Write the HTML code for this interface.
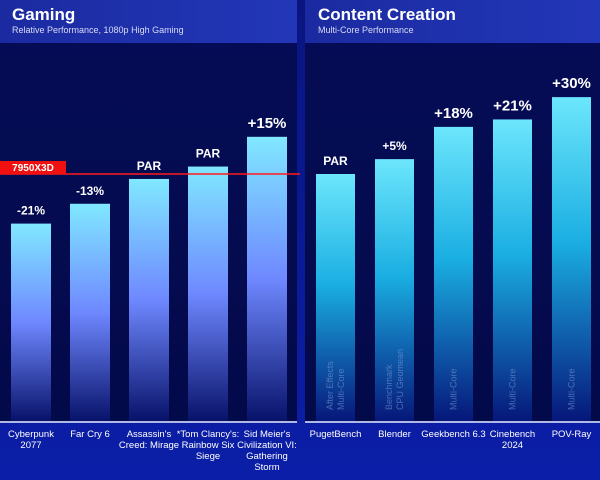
<!DOCTYPE html>
<html><head><meta charset="utf-8"><style>
html,body{margin:0;padding:0;width:600px;height:480px;overflow:hidden;background:#0c1a9a;font-family:"Liberation Sans",sans-serif}
</style></head><body>
<svg id="c" width="600" height="480" xmlns="http://www.w3.org/2000/svg">
<defs>
<linearGradient id="bg" x1="0" y1="0" x2="0" y2="1"><stop offset="0" stop-color="#0a1580"/><stop offset="1" stop-color="#0b1ea8"/></linearGradient>
<linearGradient id="hd" x1="0" y1="0" x2="1" y2="0"><stop offset="0" stop-color="#1b2aa0"/><stop offset="1" stop-color="#2237b8"/></linearGradient>
<linearGradient id="pn" x1="0" y1="0" x2="0" y2="1"><stop offset="0" stop-color="#050c55"/><stop offset="1" stop-color="#030a4a"/></linearGradient>
<linearGradient id="gl" x1="0" y1="0" x2="0" y2="1"><stop offset="0" stop-color="#80e8ff"/><stop offset="0.5" stop-color="#6f88ff"/><stop offset="1" stop-color="#08126a"/></linearGradient>
<linearGradient id="gr" x1="0" y1="0" x2="0" y2="1"><stop offset="0" stop-color="#6ce6fc"/><stop offset="0.45" stop-color="#1aaee2"/><stop offset="1" stop-color="#06177a"/></linearGradient>
</defs>
<rect width="600" height="480" fill="url(#bg)"/>
<rect x="0" y="0" width="297" height="43" fill="url(#hd)"/>
<rect x="305" y="0" width="295" height="43" fill="url(#hd)"/>
<rect x="0" y="43" width="297" height="378" fill="url(#pn)"/>
<rect x="305" y="43" width="295" height="378" fill="url(#pn)"/>
<text x="12" y="20" fill="#fff" font-size="17" font-weight="bold">Gaming</text>
<text x="12" y="33" fill="#d8dcf5" font-size="9">Relative Performance, 1080p High Gaming</text>
<text x="318" y="20" fill="#fff" font-size="17" font-weight="bold">Content Creation</text>
<text x="318" y="33" fill="#d8dcf5" font-size="9">Multi-Core Performance</text>
<g id="gl-bars"></g><g id="gr-bars"></g>
<line x1="0" y1="422" x2="297" y2="422" stroke="#e8ecff" stroke-width="1.5"/>
<line x1="305" y1="422" x2="600" y2="422" stroke="#e8ecff" stroke-width="1.5"/>
<line x1="0" y1="174" x2="300" y2="174" stroke="#ff1a1a" stroke-width="1.5"/>
<rect x="0" y="161" width="66" height="13" fill="#f01010"/>
<text x="33" y="171" fill="#fff" font-size="10" font-weight="bold" text-anchor="middle">7950X3D</text>
</svg>
<script>
const gameCats=[["Cyberpunk","2077"],["Far Cry 6"],["Assassin's","Creed: Mirage"],["*Tom Clancy's:","Rainbow Six","Siege"],["Sid Meier's","Civilization VI:","Gathering","Storm"]];
const gameVals=[80,88,98,103,115];
const gameLabels=["-21%","-13%","PAR","PAR","+15%"];
const createCats=[["PugetBench"],["Blender"],["Geekbench 6.3"],["Cinebench","2024"],["POV-Ray"]];
const createVals=[100,106,119,122,131];
const createLabels=["PAR","+5%","+18%","+21%","+30%"];
const createSub=[["After Effects","Multi-Core"],["Benchmark","CPU Geomean"],["Multi-Core"],["Multi-Core"],["Multi-Core"]];
const NS="http://www.w3.org/2000/svg";
const base=422;
function y(v){return base-v*2.48;}
function mk(tag,attrs,parent){const e=document.createElementNS(NS,tag);for(const k in attrs)e.setAttribute(k,attrs[k]);parent.appendChild(e);return e;}
function draw(gid,cats,vals,labels,x0,step,w,fill,sub){
  const g=document.getElementById(gid);
  vals.forEach((v,i)=>{
    const x=x0+i*step, t=y(v);
    const r=mk('rect',{x:x,y:t,width:w,height:base-t-1,fill:fill},g);
    
    
    const big=labels[i].startsWith('+')&&v>=110;
    const lt=mk('text',{x:x+w/2,y:t-9,fill:'#fff','font-size':big?15:12,'font-weight':'bold','text-anchor':'middle'},g);
    lt.textContent=labels[i];
    
    
    cats[i].forEach((s,j)=>{
      const c=mk('text',{x:x+w/2,y:437+j*11,fill:'#fff','font-size':9.5,'text-anchor':'middle'},g);
      c.textContent=s;
      
      
    });
    if(sub){
      const n=sub[i].length;
      sub[i].forEach((s,j)=>{
        const cx=x+w/2+(j-(n-1)/2)*11+3;
        const c=mk('text',{x:cx,y:410,fill:'#9fb4e8','fill-opacity':0.45,'font-size':9,transform:'rotate(-90 '+cx+' 410)'},g);
        c.textContent=s;
        
        
      });
    }
  });
}
draw('gl-bars',gameCats,gameVals,gameLabels,11,59,40,'url(#gl)',null);
draw('gr-bars',createCats,createVals,createLabels,316,59,39,'url(#gr)',createSub);
</script>
</body></html>
